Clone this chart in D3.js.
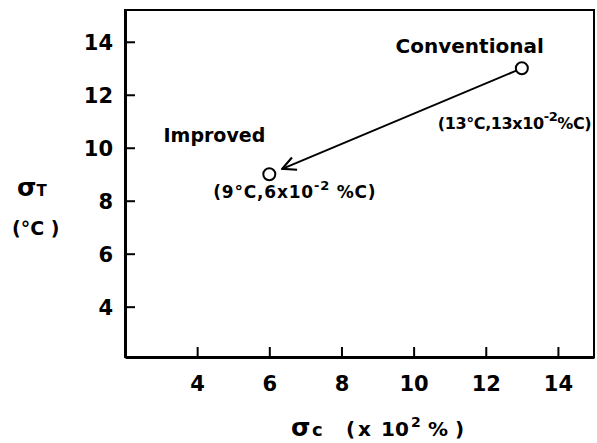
<!DOCTYPE html>
<meta charset="utf-8">
<style>
  body { margin: 0; background: #fff; }
  svg { display: block; }
  text { font-family: "DejaVu Sans", sans-serif; font-weight: bold; fill: #000; }
</style>
<svg width="597" height="443"></svg>
<script src="https://d3js.org/d3.v7.min.js"></script>
<script>
  // values
  var names = ["Conventional", "Improved"];
  var sigmaC = [13, 6];      // x 10^-2 %C
  var sigmaT = [13, 9];      // deg C
  var xTicks = [4, 6, 8, 10, 12, 14];
  var yTicks = [4, 6, 8, 10, 12, 14];

  var svg = d3.select("svg");

  var x = d3.scaleLinear().domain([2, 15]).range([125, 594]),
    y = d3.scaleLinear().domain([2.1, 15.2]).range([357, 10]);

  // frame
  svg.append("rect")
    .attr("x", x(2)).attr("y", y(15.2))
    .attr("width", x(15) - x(2)).attr("height", y(2.1) - y(15.2))
    .attr("fill", "none").attr("stroke", "#000").attr("stroke-width", 2);

  var xAxis = d3.axisBottom(x).tickValues(xTicks).tickSizeInner(-10).tickSizeOuter(0).tickPadding(19);
  var yAxis = d3.axisLeft(y).tickValues(yTicks).tickSizeInner(-10).tickSizeOuter(0).tickPadding(12);

  var gx = svg.append("g").attr("transform", "translate(0," + y(2.1) + ")").call(xAxis);
  var gy = svg.append("g").attr("transform", "translate(" + x(2) + ",0)").call(yAxis);

  [gx, gy].forEach(function(g) {
    g.select(".domain").attr("stroke", "#000").attr("stroke-width", 3);
    g.selectAll(".tick line").attr("stroke", "#000").attr("stroke-width", 2);
    g.selectAll(".tick text").style("font-size", "21px").attr("fill", "#000");
  });
  gy.selectAll(".tick text").attr("dy", "0.36em");

  // arrow marker
  svg.append("defs").append("marker")
    .attr("id", "head")
    .attr("viewBox", "0 0 12 12")
    .attr("refX", 11).attr("refY", 6)
    .attr("markerWidth", 16).attr("markerHeight", 16)
    .attr("markerUnits", "userSpaceOnUse")
    .attr("orient", "auto")
    .append("path")
    .attr("d", "M1,1 L11,6 L1,11")
    .attr("fill", "none").attr("stroke", "#000").attr("stroke-width", 1.6);

  var r = 6;
  var x0 = x(sigmaC[0]), y0 = y(sigmaT[0]), x1 = x(sigmaC[1]), y1 = y(sigmaT[1]);
  var len = Math.hypot(x1 - x0, y1 - y0), ux = (x1 - x0) / len, uy = (y1 - y0) / len;

  svg.append("line")
    .attr("x1", x0 + ux * r).attr("y1", y0 + uy * r)
    .attr("x2", x1 - ux * (r + 8)).attr("y2", y1 - uy * (r + 8))
    .attr("stroke", "#000").attr("stroke-width", 2)
    .attr("marker-end", "url(#head)");

  svg.selectAll(".pt")
    .data(names)
    .enter().append("circle")
    .attr("class", "pt")
    .attr("cx", function(d, i) { return x(sigmaC[i]); })
    .attr("cy", function(d, i) { return y(sigmaT[i]); })
    .attr("r", r)
    .attr("fill", "#fff").attr("stroke", "#000").attr("stroke-width", 2);

  // point names
  svg.append("text").attr("x", x(sigmaC[0]) + 22).attr("y", y(sigmaT[0]) - 15)
    .attr("text-anchor", "end").style("font-size", "20px").text(names[0]);
  svg.append("text").attr("x", x(sigmaC[1]) - 4).attr("y", y(sigmaT[1]) - 32)
    .attr("text-anchor", "end").style("font-size", "19px").text(names[1]);

  // coordinate notes
  function note(px, py, t, c, gap, size, spacing) {
    var tx = svg.append("text").attr("x", px).attr("y", py)
      .style("font-size", size + "px").style("letter-spacing", spacing + "px");
    tx.append("tspan").text("(" + t + "°C," + c + "x10");
    tx.append("tspan").attr("dy", -8).style("font-size", "13px").text("-2");
    tx.append("tspan").attr("dy", 8).text(gap + "%C)");
  }
  note(x(sigmaC[0]) - 84, y(sigmaT[0]) + 61, sigmaT[0], sigmaC[0], "", 16, -0.4);
  note(x(sigmaC[1]) - 56, y(sigmaT[1]) + 24, sigmaT[1], sigmaC[1], " ", 17, 0.8);

  // axis titles
  var ty = svg.append("text").attr("y", 196);
  ty.append("tspan").attr("x", 17).style("font-size", "25px").text("σ");
  ty.append("tspan").style("font-size", "15px").text("T");
  svg.append("text").attr("x", 12).attr("y", 235).style("font-size", "19px").text("(°C )");

  var tx = svg.append("text").attr("y", 436).style("font-size", "20px");
  tx.append("tspan").attr("x", 291).style("font-size", "25px").text("σ");
  tx.append("tspan").attr("x", 312).style("font-size", "18px").text("c");
  tx.append("tspan").attr("x", 346).text("(");
  tx.append("tspan").attr("x", 358).text("x");
  tx.append("tspan").attr("x", 381).text("10");
  tx.append("tspan").attr("x", 411).attr("dy", -9).style("font-size", "14px").text("2");
  tx.append("tspan").attr("x", 428).attr("dy", 9).text("%");
  tx.append("tspan").attr("x", 455).text(")");
</script>
